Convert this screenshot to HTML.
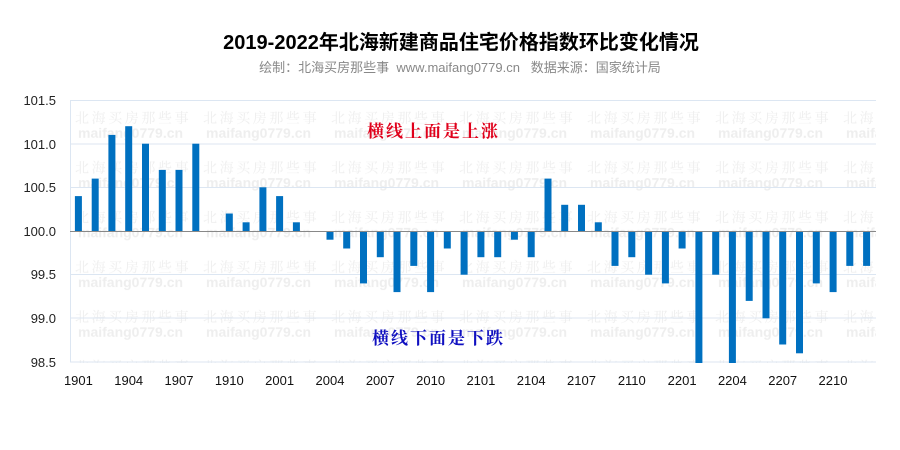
<!DOCTYPE html>
<html><head><meta charset="utf-8"><style>
html,body{margin:0;padding:0;background:#fff;}
svg{display:block;}
</style></head><body>
<svg width="900" height="450" viewBox="0 0 900 450" xmlns="http://www.w3.org/2000/svg" font-family="Liberation Sans, Noto Sans CJK SC, sans-serif">
<defs>
<pattern id="wm" patternUnits="userSpaceOnUse" x="75" y="105" width="128" height="49.75">
<text x="0" y="18" font-size="14" fill="#eeeeee" font-family="Noto Serif CJK SC, serif" letter-spacing="2.6">北海买房那些事</text>
<text x="3" y="33" font-size="14" font-weight="bold" fill="#eeeeee">maifang0779.cn</text>
</pattern>
<clipPath id="pc"><rect x="70" y="100" width="806" height="263"/></clipPath>
</defs>
<text x="461" y="49" text-anchor="middle" font-size="20" font-weight="bold" fill="#000">2019-2022年北海新建商品住宅价格指数环比变化情况</text>
<text x="460" y="72" text-anchor="middle" font-size="13" fill="#888" xml:space="preserve">绘制：北海买房那些事  www.maifang0779.cn   数据来源：国家统计局</text>
<rect x="70" y="100" width="806" height="263" fill="url(#wm)"/>
<g stroke="#dce6f2" stroke-width="1">
<line x1="70" y1="100.5" x2="876" y2="100.5"/>
<line x1="70" y1="144" x2="876" y2="144"/>
<line x1="70" y1="187.5" x2="876" y2="187.5"/>
<line x1="70" y1="274.5" x2="876" y2="274.5"/>
<line x1="70" y1="318" x2="876" y2="318"/>
<line x1="70" y1="362" x2="876" y2="362"/>
<line x1="70.5" y1="100" x2="70.5" y2="362"/>
</g>
<g font-size="13" fill="#222" text-anchor="end">
<text x="56" y="105">101.5</text>
<text x="56" y="149">101.0</text>
<text x="56" y="192">100.5</text>
<text x="56" y="236">100.0</text>
<text x="56" y="279">99.5</text>
<text x="56" y="323">99.0</text>
<text x="56" y="367">98.5</text>
</g>
<g fill="#0070c0" clip-path="url(#pc)">
<rect x="74.9" y="196.1" width="7" height="34.9"/>
<rect x="91.7" y="178.6" width="7" height="52.4"/>
<rect x="108.4" y="134.9" width="7" height="96.1"/>
<rect x="125.2" y="126.2" width="7" height="104.8"/>
<rect x="142.0" y="143.7" width="7" height="87.3"/>
<rect x="158.8" y="169.9" width="7" height="61.1"/>
<rect x="175.5" y="169.9" width="7" height="61.1"/>
<rect x="192.3" y="143.7" width="7" height="87.3"/>
<rect x="225.8" y="213.5" width="7" height="17.5"/>
<rect x="242.6" y="222.3" width="7" height="8.7"/>
<rect x="259.4" y="187.3" width="7" height="43.7"/>
<rect x="276.1" y="196.1" width="7" height="34.9"/>
<rect x="292.9" y="222.3" width="7" height="8.7"/>
<rect x="326.5" y="231" width="7" height="8.7"/>
<rect x="343.2" y="231" width="7" height="17.5"/>
<rect x="360.0" y="231" width="7" height="52.4"/>
<rect x="376.8" y="231" width="7" height="26.2"/>
<rect x="393.5" y="231" width="7" height="61.1"/>
<rect x="410.3" y="231" width="7" height="34.9"/>
<rect x="427.1" y="231" width="7" height="61.1"/>
<rect x="443.8" y="231" width="7" height="17.5"/>
<rect x="460.6" y="231" width="7" height="43.7"/>
<rect x="477.4" y="231" width="7" height="26.2"/>
<rect x="494.2" y="231" width="7" height="26.2"/>
<rect x="510.9" y="231" width="7" height="8.7"/>
<rect x="527.7" y="231" width="7" height="26.2"/>
<rect x="544.5" y="178.6" width="7" height="52.4"/>
<rect x="561.2" y="204.8" width="7" height="26.2"/>
<rect x="578.0" y="204.8" width="7" height="26.2"/>
<rect x="594.8" y="222.3" width="7" height="8.7"/>
<rect x="611.5" y="231" width="7" height="34.9"/>
<rect x="628.3" y="231" width="7" height="26.2"/>
<rect x="645.1" y="231" width="7" height="43.7"/>
<rect x="661.9" y="231" width="7" height="52.4"/>
<rect x="678.6" y="231" width="7" height="17.5"/>
<rect x="695.4" y="231" width="7" height="132"/>
<rect x="712.2" y="231" width="7" height="43.7"/>
<rect x="728.9" y="231" width="7" height="132"/>
<rect x="745.7" y="231" width="7" height="69.9"/>
<rect x="762.5" y="231" width="7" height="87.3"/>
<rect x="779.2" y="231" width="7" height="113.5"/>
<rect x="796.0" y="231" width="7" height="122.3"/>
<rect x="812.8" y="231" width="7" height="52.4"/>
<rect x="829.6" y="231" width="7" height="61.1"/>
<rect x="846.3" y="231" width="7" height="34.9"/>
<rect x="863.1" y="231" width="7" height="34.9"/>
</g>
<line x1="70" y1="231.5" x2="876" y2="231.5" stroke="#888" stroke-width="1"/>
<g font-size="13" fill="#111" text-anchor="middle">
<text x="78.4" y="385">1901</text>
<text x="128.7" y="385">1904</text>
<text x="179" y="385">1907</text>
<text x="229.3" y="385">1910</text>
<text x="279.6" y="385">2001</text>
<text x="330" y="385">2004</text>
<text x="380.3" y="385">2007</text>
<text x="430.6" y="385">2010</text>
<text x="480.9" y="385">2101</text>
<text x="531.2" y="385">2104</text>
<text x="581.5" y="385">2107</text>
<text x="631.8" y="385">2110</text>
<text x="682.1" y="385">2201</text>
<text x="732.4" y="385">2204</text>
<text x="782.7" y="385">2207</text>
<text x="833" y="385">2210</text>
</g>
<text x="367" y="137" font-size="17" font-weight="bold" fill="#e0001b" font-family="Noto Serif CJK SC, serif" letter-spacing="2">横线上面是上涨</text>
<text x="372" y="344" font-size="17" font-weight="bold" fill="#1010c0" font-family="Noto Serif CJK SC, serif" letter-spacing="2">横线下面是下跌</text>
</svg>
</body></html>
